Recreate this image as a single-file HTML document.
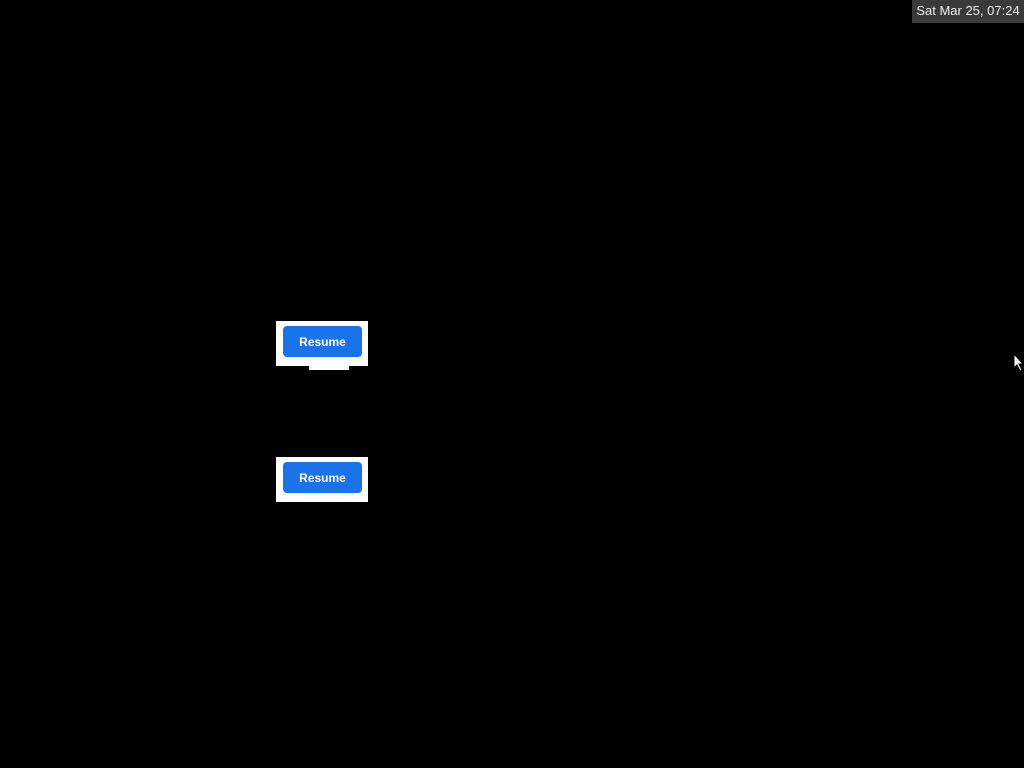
<!DOCTYPE html>
<html><head><meta charset="utf-8"><style>
html,body{margin:0;padding:0;width:1024px;height:768px;background:#000;overflow:hidden;font-family:"Liberation Sans",sans-serif}
.a{position:absolute}
.box{background:#fff;width:92px;height:45px;left:276px}
.btn{background:#1a73e8;color:#fff;width:79px;height:31px;left:283px;border-radius:4px;font-size:12px;font-weight:bold;display:flex;align-items:center;justify-content:center}
</style></head><body>
<div class="a" style="left:912px;top:0;width:112px;height:23px;background:#3a3a3a;color:#eee;font-size:13px;line-height:22px;text-align:center">Sat Mar 25, 07:24</div>
<div class="a box" style="top:321px"></div>
<div class="a" style="left:309px;top:366px;width:40px;height:4px;background:#fff"></div>
<div class="a btn" style="top:326px">Resume</div>
<div class="a box" style="top:457px"></div>
<div class="a btn" style="top:462px">Resume</div>
<svg class="a" style="left:1013px;top:353px" width="12" height="20" viewBox="0 0 12 20"><path d="M1 1 L1 15 L4 12 L7 18 L9 17 L6 11 L10 11 Z" fill="#fff" stroke="#000" stroke-width="1"/></svg>
</body></html>
